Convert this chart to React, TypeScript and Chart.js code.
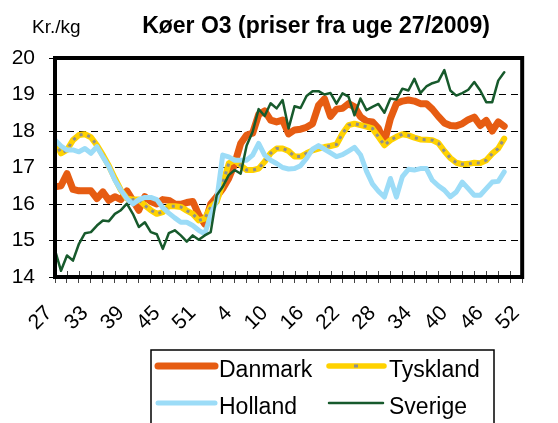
import React, { useEffect, useRef } from 'react';
import { Chart, registerables } from 'chart.js';

Chart.register(...registerables);

// Week numbers from week 27/2009 to week 52/2010 (2009 has 53 weeks)
const weeks = [
  27, 28, 29, 30, 31, 32, 33, 34, 35, 36, 37, 38, 39, 40, 41, 42, 43, 44, 45, 46, 47, 48, 49, 50, 51, 52, 53,
  1, 2, 3, 4, 5, 6, 7, 8, 9, 10, 11, 12, 13, 14, 15, 16, 17, 18, 19, 20, 21, 22, 23, 24, 25, 26,
  27, 28, 29, 30, 31, 32, 33, 34, 35, 36, 37, 38, 39, 40, 41, 42, 43, 44, 45, 46, 47, 48, 49, 50, 51, 52,
];

const danmark = [
  16.47, 16.5, 16.83, 16.4, 16.36, 16.36, 16.36, 16.15, 16.33, 16.1,
  16.2, 16.12, 16.36, 16.1, 15.83, 16.2, 16.07, 16.0, 16.12, 16.1,
  16.0, 15.99, 16.04, 16.07, 15.7, 15.45, 16.0, 16.2, 16.42, 16.7,
  17.1, 17.66, 17.89, 17.94, 18.45, 18.55, 18.3, 18.25, 18.3, 17.92,
  18.03, 18.05, 18.1, 18.2, 18.7, 18.88, 18.4, 18.6, 18.62, 18.75,
  18.66, 18.39, 18.27, 18.25, 18.07, 17.7, 18.34, 18.75, 18.82, 18.85,
  18.82, 18.75, 18.75, 18.6, 18.4, 18.22, 18.15, 18.14, 18.2, 18.31,
  18.38, 18.15, 18.29, 18.0, 18.25, 18.13,
];

const tyskland = [
  17.71, 17.39, 17.48, 17.75, 17.89, 17.91, 17.83, 17.61, 17.34, 17.04,
  16.7, 16.38, 16.15, 16.12, 16.12, 15.96, 15.83, 15.73, 15.78, 15.94,
  15.94, 15.92, 15.82, 15.73, 15.55, 15.6, 15.92, 16.06, 16.56, 17.11,
  17.2, 17.06, 16.93, 16.93, 16.97, 17.16, 17.39, 17.52, 17.52, 17.45,
  17.3, 17.3, 17.39, 17.47, 17.52, 17.56, 17.59, 17.63, 17.93, 18.16,
  18.2, 18.16, 18.12, 18.07, 17.84, 17.61, 17.75, 17.84, 17.91, 17.88,
  17.82, 17.77, 17.76, 17.75, 17.67, 17.45, 17.26, 17.13, 17.09, 17.1,
  17.13, 17.12, 17.2, 17.38, 17.52, 17.79,
];

const holland = [
  17.75, 17.59, 17.48, 17.48, 17.43, 17.52, 17.39, 17.57, 17.29, 17.02,
  16.65, 16.38, 16.15, 16.0, 16.12, 16.18, 16.18, 16.12, 15.9, 15.75,
  15.62, 15.5, 15.5, 15.41, 15.28, 15.18, 15.7, 16.1, 17.34, 17.29,
  17.2, 17.2, 17.2, 17.34, 17.66, 17.34, 17.2, 17.11, 17.0, 16.96,
  16.97, 17.05, 17.25, 17.5, 17.6, 17.5, 17.4, 17.3, 17.35, 17.45,
  17.55, 17.35, 16.9, 16.55, 16.35, 16.19, 16.7, 16.19, 16.75, 16.95,
  16.93, 16.97, 16.97, 16.65, 16.5, 16.38, 16.2, 16.33, 16.6, 16.42,
  16.24, 16.24, 16.42, 16.6, 16.62, 16.88,
];

const sverige = [
  14.74, 14.17, 14.59, 14.45, 14.91, 15.2, 15.23, 15.41, 15.55, 15.53,
  15.73, 15.83, 16.01, 15.73, 15.37, 15.5, 15.23, 15.17, 14.77, 15.2,
  15.28, 15.14, 14.97, 15.14, 15.02, 15.14, 15.23, 16.24, 16.47, 16.79,
  16.93, 16.83, 17.6, 17.98, 18.6, 18.41, 18.76, 18.62, 18.85, 18.07,
  18.68, 18.63, 18.96, 19.09, 19.09, 19.0, 19.04, 18.75, 19.03, 18.94,
  18.43, 18.89, 18.57, 18.66, 18.74, 18.5, 18.89, 18.86, 19.16, 19.11,
  19.43, 19.04, 19.22, 19.31, 19.36, 19.67, 19.11, 18.97, 19.04, 19.13,
  19.34, 19.11, 18.79, 18.79, 19.38, 19.61,
];

const seriesNames = ['Danmark', 'Tyskland', 'Holland', 'Sverige'];
const titleText = 'Køer O3 (priser fra uge 27/2009)';
const unitText = 'Kr./kg';

const FONT = '"Liberation Sans", Arial, Helvetica, sans-serif';
const C_DK = '#E65C12';
const C_DE = '#FFD200';
const C_DOT = '#8E8E8E';
const C_NL = '#9CDCF7';
const C_SE = '#175A2C';

export default function App() {
  const ref = useRef<HTMLCanvasElement>(null);

  useEffect(() => {
    if (!ref.current) return;
    const pts = (arr: number[]) => arr.map((y, i) => ({ x: i, y }));

    const framePlugin = {
      id: 'frame',
      afterDatasetsDraw(chart: any) {
        const { ctx, chartArea } = chart;
        const xs = chart.scales.x;
        ctx.save();
        // inner tick marks on the x axis
        ctx.strokeStyle = '#444';
        ctx.lineWidth = 1;
        xs.ticks.forEach((t: any) => {
          const px = Math.round(xs.getPixelForValue(t.value)) + 0.5;
          ctx.beginPath();
          ctx.moveTo(px, chartArea.bottom - 6);
          ctx.lineTo(px, chartArea.bottom);
          ctx.stroke();
        });
        ctx.strokeStyle = '#000';
        ctx.lineWidth = 4;
        ctx.strokeRect(chartArea.left, chartArea.top, chartArea.right - chartArea.left, chartArea.bottom - chartArea.top);
        ctx.restore();
      },
    };

    const decoPlugin = {
      id: 'deco',
      afterDraw(chart: any) {
        const { ctx } = chart;
        ctx.save();
        ctx.fillStyle = '#000';
        ctx.textBaseline = 'alphabetic';
        ctx.font = `bold 23px ${FONT}`;
        ctx.textAlign = 'center';
        ctx.fillText(titleText, 316, 33);
        ctx.font = `19px ${FONT}`;
        ctx.textAlign = 'left';
        ctx.fillText(unitText, 32, 33);

        // legend box
        ctx.strokeStyle = '#000';
        ctx.lineWidth = 1.5;
        ctx.strokeRect(151, 350, 343, 90);
        const items = [
          { name: seriesNames[0], color: C_DK, w: 7, x1: 158, x2: 215, y: 366, tx: 219 },
          { name: seriesNames[1], color: C_DE, w: 5.5, x1: 329, x2: 384, y: 366, tx: 389, dot: true },
          { name: seriesNames[2], color: C_NL, w: 5, x1: 158, x2: 215, y: 403, tx: 219 },
          { name: seriesNames[3], color: C_SE, w: 2.5, x1: 329, x2: 383, y: 403, tx: 389 },
        ];
        ctx.font = `23px ${FONT}`;
        ctx.textAlign = 'left';
        ctx.lineCap = 'round';
        items.forEach((it) => {
          ctx.strokeStyle = it.color;
          ctx.lineWidth = it.w;
          ctx.beginPath();
          ctx.moveTo(it.x1, it.y);
          ctx.lineTo(it.x2, it.y);
          ctx.stroke();
          if (it.dot) {
            ctx.strokeStyle = C_DOT;
            ctx.lineWidth = 3;
            ctx.lineCap = 'butt';
            ctx.beginPath();
            ctx.moveTo(354, it.y);
            ctx.lineTo(358, it.y);
            ctx.stroke();
            ctx.lineCap = 'round';
          }
          ctx.fillStyle = '#000';
          ctx.fillText(it.name, it.tx, it.y + 11);
        });
        ctx.restore();
      },
    };

    const common = { pointRadius: 0, tension: 0, borderJoinStyle: 'round', borderCapStyle: 'round', fill: false };

    const chart = new Chart(ref.current, {
      type: 'line',
      data: {
        datasets: [
          { ...common, label: seriesNames[0], data: pts(danmark), borderColor: C_DK, borderWidth: 7, order: 6 },
          { ...common, label: seriesNames[1], data: pts(tyskland), borderColor: C_DE, borderWidth: 6, order: 5 },
          { ...common, label: seriesNames[1] + ' ', data: pts(tyskland), borderColor: C_DOT, borderWidth: 3, borderDash: [3, 5], borderCapStyle: 'butt', order: 4 },
          { ...common, label: seriesNames[2], data: pts(holland), borderColor: C_NL, borderWidth: 5, order: 3 },
          { ...common, label: seriesNames[3], data: pts(sverige), borderColor: C_SE, borderWidth: 2.5, order: 1 },
        ] as any,
      },
      options: {
        responsive: false,
        animation: false,
        devicePixelRatio: 1,
        layout: { padding: { left: 0, right: 3, top: 58, bottom: 0 } },
        plugins: { legend: { display: false }, title: { display: false }, tooltip: { enabled: false } },
        scales: {
          x: {
            type: 'linear',
            min: 0,
            max: weeks.length - 1,
            afterFit: (s: any) => { s.height = 146; },
            border: { display: false },
            grid: { drawOnChartArea: false, drawTicks: true, tickLength: 6, tickColor: '#444' },
            ticks: {
              stepSize: 2,
              autoSkip: false,
              maxRotation: 45,
              minRotation: 45,
              padding: 18,
              labelOffset: -6,
              color: '#000',
              font: { family: FONT, size: 21 },
              callback: (v: any) => (Number(v) % 6 === 0 ? String(weeks[Number(v)]) : ''),
            },
          },
          y: {
            min: 14,
            max: 20,
            afterFit: (s: any) => { s.width = 55; },
            border: { display: false, dash: [7, 5] },
            grid: { color: '#000', lineWidth: 1, tickLength: 6, tickColor: '#000', tickBorderDash: [] },
            ticks: { stepSize: 1, padding: 14, color: '#000', font: { family: FONT, size: 21 } },
          },
        },
      } as any,
      plugins: [framePlugin, decoPlugin],
    });
    return () => chart.destroy();
  }, []);

  return (
    <div style={{ position: 'absolute', left: 0, top: 0, width: 558, height: 423, background: '#fff', overflow: 'hidden' }}>
      <canvas ref={ref} width={558} height={423} style={{ display: 'block' }} />
    </div>
  );
}
